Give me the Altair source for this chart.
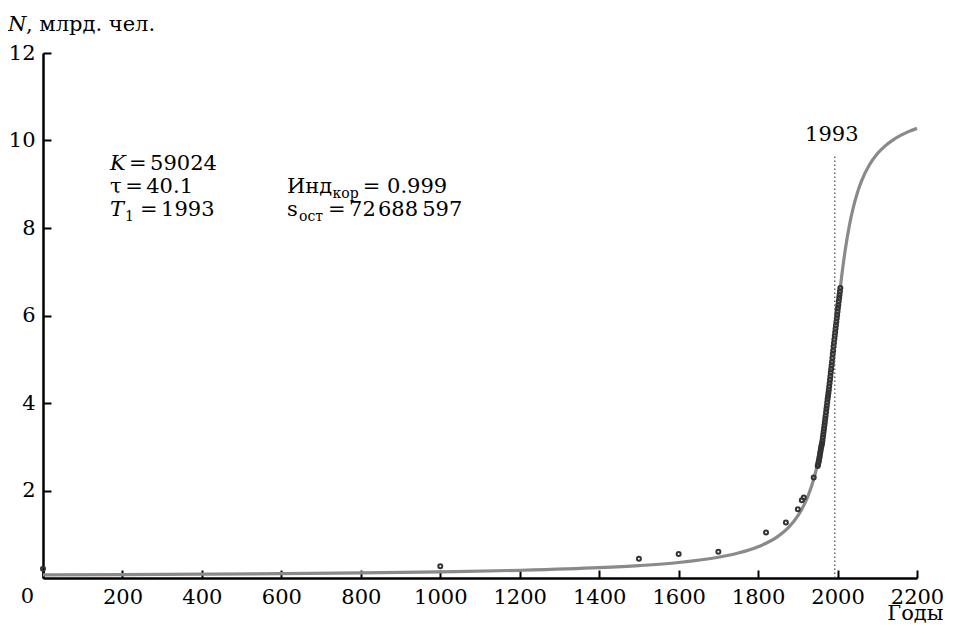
import altair as alt
import pandas as pd

FONT = "DejaVu Serif"

# ---- model curve (year, N in billions) ----
curve_year = [0, 200, 400, 600, 800, 1000, 1200, 1400, 1500, 1600, 1700, 1750,
              1800, 1850, 1875, 1900, 1925, 1940, 1950, 1960, 1970, 1980, 1990,
              2000, 2010, 2020, 2030, 2040, 2050, 2060, 2080, 2100, 2120, 2140,
              2160, 2180, 2200]
curve_n = [0.070, 0.078, 0.088, 0.100, 0.117, 0.141, 0.176, 0.235, 0.283, 0.354,
           0.474, 0.570, 0.714, 0.952, 1.142, 1.419, 1.857, 2.257, 2.615, 3.073,
           3.659, 4.380, 5.212, 6.074, 6.868, 7.537, 8.069, 8.484, 8.808, 9.066,
           9.439, 9.697, 9.878, 10.016, 10.121, 10.209, 10.277]

# ---- observed population points ----
obs_year = [0, 1000, 1500, 1600, 1700, 1820, 1870, 1900, 1910, 1915, 1940,
            1950, 1951, 1952, 1953, 1954, 1955, 1956, 1957, 1958, 1959,
            1960, 1961, 1962, 1963, 1964, 1965, 1966, 1967, 1968, 1969,
            1970, 1971, 1972, 1973, 1974, 1975, 1976, 1977, 1978, 1979,
            1980, 1981, 1982, 1983, 1984, 1985, 1986, 1987, 1988, 1989,
            1990, 1991, 1992, 1993, 1994, 1995, 1996, 1997, 1998, 1999,
            2000, 2001, 2002, 2003, 2004, 2005, 2006, 2007]
obs_n = [0.21, 0.27, 0.44, 0.55, 0.60, 1.04, 1.27, 1.57, 1.78, 1.84, 2.30,
         2.56, 2.59, 2.64, 2.68, 2.73, 2.78, 2.84, 2.89, 2.95, 3.00,
         3.04, 3.08, 3.14, 3.21, 3.28, 3.35, 3.42, 3.49, 3.56, 3.64,
         3.71, 3.79, 3.87, 3.94, 4.02, 4.09, 4.16, 4.23, 4.30, 4.38,
         4.45, 4.53, 4.61, 4.70, 4.78, 4.86, 4.94, 5.03, 5.12, 5.20,
         5.29, 5.37, 5.46, 5.54, 5.62, 5.70, 5.78, 5.86, 5.94, 6.01,
         6.09, 6.17, 6.24, 6.32, 6.40, 6.47, 6.55, 6.63]

# ---- T1 marker ----
marker_year = [1993]
marker_top = [9.67]
marker_label = ["1993"]
marker_label_n = [9.99]

# ---- axis ticks ----
x_ticks = [0, 100, 200, 300, 400, 500, 600, 700, 800, 900, 1000, 1100, 1200,
           1300, 1400, 1500, 1600, 1700, 1800, 1900, 2000, 2100, 2200]
y_ticks = [2, 4, 6, 8, 10, 12]

# ---- origin label "0" (shared corner label, set left of the corner) ----
origin_text = ["0"]
origin_year = [0]
origin_n = [-0.571]

# ---- annotation texts (anchored in data units) ----
S = "\u2006"  # narrow space around "="
ital_text = ["K", "T", "N"]
ital_year = [168.7, 168.7, -88.1]
ital_n = [9.326, 8.274, 12.503]

reg_text = ["=" + S + "59024", "\u03c4" + S + "=" + S + "40.1", "=" + S + "1993",
            "Инд", "= 0.999", "s", "=" + S + "72\u200a688\u2009597",
            ", млрд. чел."]
reg_year = [216.5, 168.7, 244.2, 614.2, 805.0, 614.2, 717.4, -42.8]
reg_n = [9.326, 8.800, 8.274, 8.800, 8.800, 8.274, 8.274, 12.503]

sub_text = ["1", "кор", "ост"]
sub_year = [206.4, 729.0, 644.4]
sub_n = [8.160, 8.686, 8.160]

xs = alt.Scale(domain=[0, 2200], nice=False, zero=False)
ys = alt.Scale(domain=[0, 12], nice=False, zero=False)

curve_df = pd.DataFrame({"year": curve_year, "n": curve_n})
obs_df = pd.DataFrame({"year": obs_year, "n": obs_n})
mark_df = pd.DataFrame({"year": marker_year, "top": marker_top, "bottom": [0],
                        "label": marker_label, "ly": marker_label_n})
origin_df = pd.DataFrame({"x": origin_year, "y": origin_n, "t": origin_text})
ital_df = pd.DataFrame({"x": ital_year, "y": ital_n, "t": ital_text})
reg_df = pd.DataFrame({"x": reg_year, "y": reg_n, "t": reg_text})
sub_df = pd.DataFrame({"x": sub_year, "y": sub_n, "t": sub_text})

x_axis = alt.Axis(
    values=x_ticks, format="d",
    labelExpr="datum.value != 0 && datum.value % 200 == 0 ? datum.label : ''",
    labelFlush=False, labelOverlap=False, labelAlign="center",
    labelPadding=16, labelFontSize=21, labelColor="black", labelFont=FONT,
    tickSize=alt.ExprRef(expr="-8"), tickWidth=2, tickColor="black",
    domainColor="black", domainWidth=2.5, grid=False,
    title="Годы", titleFont=FONT, titleFontSize=21, titleFontWeight="normal",
    titleColor="black", titleAlign="right", titleBaseline="alphabetic",
    titleX=900, titleY=41, titleAnchor="end",
)
y_axis = alt.Axis(
    values=y_ticks, format="d", labelFlush=False, labelOverlap=False,
    labelPadding=16, labelFontSize=21, labelColor="black", labelFont=FONT,
    tickSize=alt.ExprRef(expr="-8"), tickWidth=2, tickColor="black",
    domainColor="black", domainWidth=2.5, grid=False, title=None,
)

curve = alt.Chart(curve_df).mark_line(
    color="#8a8a8a", strokeWidth=3.2, interpolate="monotone"
).encode(
    x=alt.X("year:Q", scale=xs, axis=x_axis),
    y=alt.Y("n:Q", scale=ys, axis=y_axis),
)

points = alt.Chart(obs_df).mark_point(
    shape="circle", filled=False, size=16, strokeWidth=2.0,
    color="#333333", opacity=1
).encode(
    x=alt.X("year:Q", scale=xs),
    y=alt.Y("n:Q", scale=ys),
)

rule = alt.Chart(mark_df).mark_rule(
    color="#555555", strokeWidth=1.3, strokeDash=[1.5, 2.5]
).encode(
    x=alt.X("year:Q", scale=xs),
    y=alt.Y("bottom:Q", scale=ys),
    y2="top:Q",
)

rule_label = alt.Chart(mark_df).mark_text(
    font=FONT, fontSize=21, align="center", baseline="alphabetic", dx=-3, color="black"
).encode(
    x=alt.X("year:Q", scale=xs),
    y=alt.Y("ly:Q", scale=ys),
    text="label:N",
)

origin = alt.Chart(origin_df).mark_text(
    font=FONT, fontSize=21, align="right", baseline="alphabetic", dx=-9, color="black"
).encode(
    x=alt.X("x:Q", scale=xs),
    y=alt.Y("y:Q", scale=ys),
    text="t:N",
)

def text_layer(df, size, style):
    return alt.Chart(df).mark_text(
        font=FONT, fontSize=size, fontStyle=style, align="left",
        baseline="alphabetic", color="black"
    ).encode(
        x=alt.X("x:Q", scale=xs),
        y=alt.Y("y:Q", scale=ys),
        text="t:N",
    )

ital = text_layer(ital_df, 21, "italic")
reg = text_layer(reg_df, 21, "normal")
sub = text_layer(sub_df, 14, "normal")

chart = alt.layer(curve, points, rule, rule_label, origin, ital, reg, sub).properties(
    width=874, height=525,
    padding={"left": 35, "top": 45, "right": 28, "bottom": 46},
    autosize=alt.AutoSizeParams(type="none"),
).configure_view(stroke=None)

chart.save("out.html", embed_options={"renderer": "svg", "actions": False})
